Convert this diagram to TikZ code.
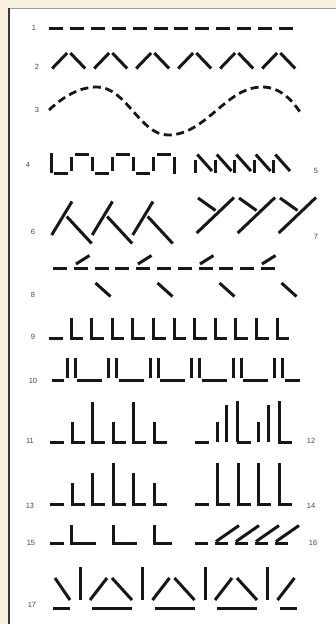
\documentclass[tikz,border=0pt]{standalone}
\usepackage{fontspec}
\setmainfont{Liberation Sans}
\definecolor{bgbeige}{RGB}{250,240,224}
\definecolor{ink}{RGB}{24,22,22}
\definecolor{bordark}{RGB}{60,54,50}
\definecolor{bortop}{RGB}{165,157,148}
\definecolor{labelc}{RGB}{70,70,70}
\begin{document}
\begin{tikzpicture}[x=1pt,y=-1pt,
  sym/.style={draw=ink,line width=3pt,line cap=butt},
  wave/.style={draw=ink,line width=2.8pt,line cap=butt,dash pattern=on 8pt off 4.6pt},
  lbl/.style={font=\fontsize{7.5}{8}\selectfont,text=labelc,inner sep=0pt}]
\useasboundingbox (0,0) rectangle (336,624);
% background and panel
\fill[bgbeige] (0,0) rectangle (336,624);
\fill[white] (8,8.5) rectangle (336,624);
\draw[bortop,line width=1pt] (8,8.5) -- (336,8.5);
\draw[bordark,line width=2.6pt] (9,8) -- (9,624);
% labels
\node[lbl] (l1) at (34,28) {1};
\node[lbl] (l2) at (37,67) {2};
\node[lbl] (l3) at (37,110) {3};
\node[lbl] (l4) at (28,165) {4};
\node[lbl] (l5) at (316,171) {5};
\node[lbl] (l6) at (33,232) {6};
\node[lbl] (l7) at (316,237) {7};
\node[lbl] (l8) at (33,295) {8};
\node[lbl] (l9) at (33,337) {9};
\node[lbl] (l10) at (33,381) {10};
\node[lbl] (l11) at (30,441) {11};
\node[lbl] (l12) at (311,441) {12};
\node[lbl] (l13) at (30,506) {13};
\node[lbl] (l14) at (311,506) {14};
\node[lbl] (l15) at (31,543) {15};
\node[lbl] (l16) at (313,543) {16};
\node[lbl] (l17) at (32,605) {17};
% row 1
\foreach \i in {0,...,11}{\draw[sym] ({49+\i*20.9},28) -- ++(14,0);}
% row 2
\foreach \k in {0,...,5}{
  \pgfmathsetmacro\px{68.7+42*\k}
  \draw[sym] ({\px-16.5},68.5) -- ({\px-1.6},53);
  \draw[sym] ({\px+1.6},53) -- ({\px+16.5},68.5);}
% row 3
\draw[wave] (49,110) .. controls (64,96) and (80,87) .. (97,87)
  .. controls (126,87) and (140,135) .. (168,135)
  .. controls (206,135) and (226,87) .. (262,87)
  .. controls (280,87) and (292,100) .. (300,112);
% row 4 square wave
\draw[sym] (51,153) -- (51,173);
\foreach \j in {1,...,5}{\draw[sym] ({51+20.5*\j},156.5) -- ({51+20.5*\j},170.5);}
\draw[sym] (174,156.5) -- (174,174);
\foreach \j in {0,2,4}{\draw[sym] ({51+20.5*\j+3.3},173) -- ({51+20.5*(\j+1)-3.3},173);}
\foreach \j in {1,3,5}{\draw[sym] ({51+20.5*\j+3.3},154) -- ({51+20.5*(\j+1)-3.3},154);}
% row 5 sawtooth
\foreach \j in {0,...,4}{
  \pgfmathsetmacro\xa{195.5+19.5*\j}
  \draw[sym] (\xa,173) -- (\xa,159.5);
  \draw[sym] ({\xa+1.8},154.5) -- ({\xa+16.5},171);}
% row 6
\foreach \o in {0,40.5,81}{
  \draw[sym] ({51.7+\o},235) -- ({72+\o},201.5);
  \draw[sym] ({66.7+\o},216.5) -- ({91.7+\o},243.5);}
% row 7
\foreach \o in {0,41,82}{
  \draw[sym] ({198+\o},198) -- ({215.5+\o},210.5);
  \draw[sym] ({196.7+\o},233) -- ({234+\o},197.5);}
% row 8
\foreach \i in {0,...,10}{\draw[sym] ({53+\i*20.8},268) -- ++(14,0);}
\foreach \o in {0,62,124,186}{
  \draw[sym] ({76+\o},264) -- ({89.5+\o},255.5);
  \draw[sym] ({95.5+\o},283) -- ({110.5+\o},296.5);}
% row 9
\foreach \i in {0,...,11}{\draw[sym] ({49+\i*20.6},338) -- ++(13.5,0);}
\foreach \i in {1,...,11}{\draw[sym] ({49+\i*20.6+1.4},318) -- ({49+\i*20.6+1.4},338);}
% row 10
\draw[sym] (52,380) -- (64,380);
\foreach \k in {0,...,5}{
  \pgfmathsetmacro\xa{67+41.5*\k}
  \draw[sym] (\xa,358) -- (\xa,378);
  \draw[sym] ({\xa+8.3},358) -- ({\xa+8.3},378);}
\foreach \k in {0,...,4}{\draw[sym] ({77+41.5*\k},380) -- ({102+41.5*\k},380);}
\draw[sym] (285,380) -- (300,380);
% row 11
\foreach \i in {0,...,5}{\draw[sym] ({50+\i*20.6},442) -- ++(14,0);}
\foreach \i/\t in {1/422,2/402,3/422,4/402,5/422}{\draw[sym] ({50+\i*20.6+1.4},\t) -- ({50+\i*20.6+1.4},442);}
% row 12
\foreach \x in {195,236.5,278}{\draw[sym] (\x,442) -- ++(14,0);}
\foreach \x/\t in {217/422,226.5/405,237.9/401,258.5/422,268/405,279.4/401}{\draw[sym] (\x,\t) -- (\x,442);}
% row 13
\foreach \i in {0,...,5}{\draw[sym] ({50+\i*20.6},504) -- ++(14,0);}
\foreach \i/\t in {1/483,2/473,3/463,4/473,5/483}{\draw[sym] ({50+\i*20.6+1.4},\t) -- ({50+\i*20.6+1.4},504);}
% row 14
\foreach \i in {0,...,4}{\draw[sym] ({195+\i*20.8},504) -- ++(14,0);}
\foreach \i in {1,...,4}{\draw[sym] ({195+\i*20.8+1.4},463) -- ({195+\i*20.8+1.4},504);}
% row 15
\draw[sym] (50,543) -- (63.5,543);
\foreach \v in {71.5,113}{
  \draw[sym] (\v,525) -- (\v,543);
  \draw[sym] ({\v-1.4},543) -- ({\v+24},543);}
\draw[sym] (154.5,525) -- (154.5,543);
\draw[sym] (153.1,543) -- (172,543);
% row 16
\foreach \i in {0,...,4}{\draw[sym] ({195+\i*20},543) -- ++(13,0);}
\foreach \i in {1,...,4}{\draw[sym] ({195+\i*20+1},541.5) -- ({195+\i*20+24},525.5);}
% row 17
\draw[sym] (55,578) -- (70,600);
\draw[sym] (53,608) -- (70,608);
\foreach \v in {80,142.5,205}{
  \draw[sym] (\v,567) -- (\v,600);
  \draw[sym] ({\v+10},600) -- ({\v+27},578);
  \draw[sym] ({\v+12},608) -- ({\v+52},608);
  \draw[sym] ({\v+32},578) -- ({\v+52},600);}
\draw[sym] (267.5,567) -- (267.5,600);
\draw[sym] (277.5,600) -- (294.5,578);
\draw[sym] (279.5,608) -- (297,608);
\end{tikzpicture}
\end{document}
